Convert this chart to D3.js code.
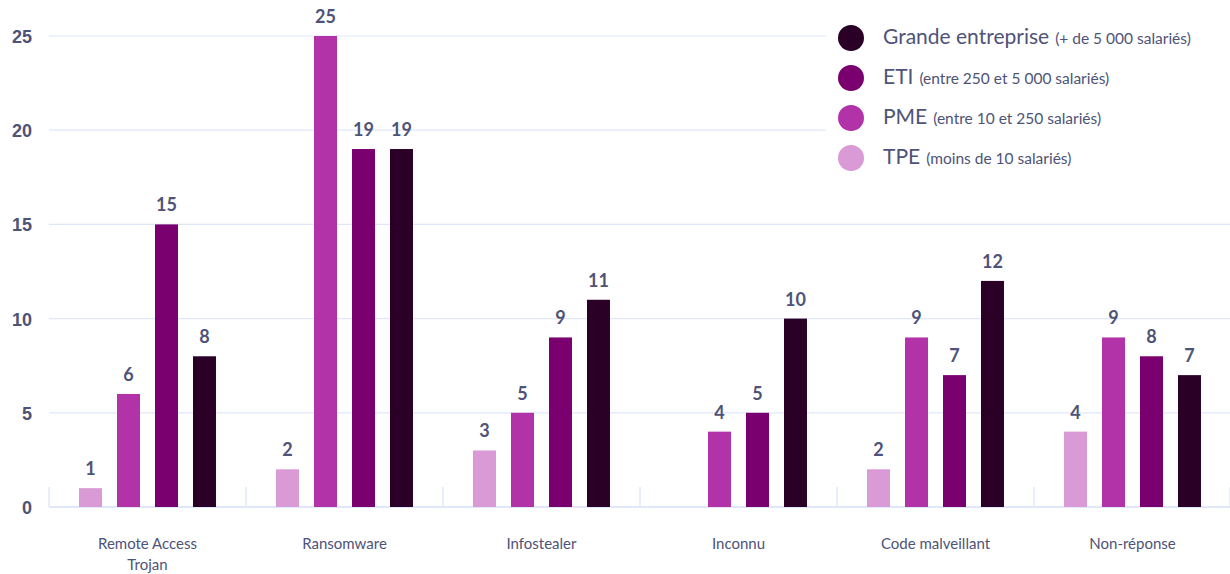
<!DOCTYPE html>
<html lang="fr">
<head>
<meta charset="utf-8">
<script src="https://cdn.jsdelivr.net/npm/d3@7"></script>
<style>
  html, body { margin: 0; padding: 0; background: #fff; }
  svg { display: block; font-family: Lato, "Open Sans", sans-serif; }
</style>
</head>
<body>
<svg id="chart" width="1230" height="574"></svg>
<script>
// Catégories de menaces
const categories = ["Remote Access Trojan", "Ransomware", "Infostealer", "Inconnu", "Code malveillant", "Non-réponse"];
// Tailles d'entreprise, dans l'ordre d'affichage des barres
const seriesKeys = ["TPE", "PME", "ETI", "GE"];
const tpe = [1, 2, 3, 0, 2, 4];
const pme = [6, 25, 5, 4, 9, 9];
const eti = [15, 19, 9, 5, 7, 8];
const ge  = [8, 19, 11, 10, 12, 7];
const yTicks = [0, 5, 10, 15, 20, 25];

const legendMain = ["Grande entreprise", "ETI", "PME", "TPE"];
const legendSub  = ["(+ de 5 000 salariés)", "(entre 250 et 5 000 salariés)", "(entre 10 et 250 salariés)", "(moins de 10 salariés)"];
const legendKeys = ["GE", "ETI", "PME", "TPE"];

const colors = { TPE: "#d99ad5", PME: "#b233a8", ETI: "#7b006f", GE: "#2b0026" };
const textColor = "#4e5377";
const gridColor = "#dfe7f8";

const seriesValues = { TPE: tpe, PME: pme, ETI: eti, GE: ge };
const rows = categories.map((c, i) => ({ cat: c, values: seriesKeys.map(k => ({ key: k, value: seriesValues[k][i] })) }));

const svg = d3.select("#chart");
const x0 = 49, x1 = 1231, yBase = 507, yTop = 36;

const x = d3.scaleBand().domain(categories).range([x0, x1]).padding(0);
const xi = d3.scaleBand().domain(seriesKeys).range([0, x.bandwidth()]).paddingInner(0.395).paddingOuter(0.79);
const y = d3.scaleLinear().domain([0, 25]).range([yBase, yTop]);

// Grille horizontale
svg.append("g").selectAll("line").data(yTicks.filter(t => t > 0)).join("line")
  .attr("x1", x0).attr("x2", x1)
  .attr("y1", d => y(d)).attr("y2", d => y(d))
  .attr("stroke", gridColor).attr("stroke-width", 1.2);

// Axe vertical (libellés seuls)
const yAxis = svg.append("g").attr("transform", "translate(32,0)")
  .call(d3.axisLeft(y).tickValues(yTicks).tickSize(0).tickPadding(0));
yAxis.select(".domain").remove();
yAxis.selectAll("text")
  .attr("fill", textColor).attr("font-size", 18).attr("font-weight", 700)
  .attr("dy", "0.36em");

// Ligne de base et séparateurs de catégories
svg.append("line").attr("x1", x0).attr("x2", x1).attr("y1", yBase).attr("y2", yBase)
  .attr("stroke", gridColor).attr("stroke-width", 2);
const seps = categories.map(c => x(c)).concat([x1 - 1]);
svg.append("g").selectAll("line").data(seps).join("line")
  .attr("x1", d => d).attr("x2", d => d)
  .attr("y1", yBase - 20).attr("y2", yBase)
  .attr("stroke", gridColor).attr("stroke-width", 1.5);

// Barres
const groups = svg.append("g").selectAll("g").data(rows).join("g")
  .attr("transform", d => `translate(${x(d.cat)},0)`);

groups.selectAll("rect").data(d => d.values).join("rect")
  .attr("x", d => xi(d.key))
  .attr("width", xi.bandwidth())
  .attr("y", d => y(d.value))
  .attr("height", d => yBase - y(d.value))
  .attr("fill", d => colors[d.key]);

// Valeurs au-dessus des barres
groups.selectAll("text").data(d => d.values.filter(v => v.value > 0)).join("text")
  .attr("x", d => xi(d.key) + xi.bandwidth() / 2)
  .attr("y", d => y(d.value) - 13)
  .attr("text-anchor", "middle")
  .attr("fill", textColor).attr("font-size", 18).attr("font-weight", 700)
  .text(d => d.value);

// Libellés des catégories (retour à la ligne pour les longs libellés)
const catLabels = svg.append("g").selectAll("text").data(categories).join("text")
  .attr("x", d => x(d) + x.bandwidth() / 2)
  .attr("y", 549)
  .attr("text-anchor", "middle")
  .attr("fill", textColor).attr("font-size", 15);
catLabels.each(function(d) {
  const lines = d === "Remote Access Trojan" ? ["Remote Access", "Trojan"] : [d];
  d3.select(this).selectAll("tspan").data(lines).join("tspan")
    .attr("x", x(d) + x.bandwidth() / 2)
    .attr("dy", (l, i) => i === 0 ? 0 : 21)
    .text(l => l);
});

// Légende
const legend = svg.append("g");
legend.append("rect").attr("x", 826).attr("y", 14).attr("width", 404).attr("height", 165).attr("fill", "#fff");
const items = legend.selectAll("g").data(legendKeys).join("g")
  .attr("transform", (d, i) => `translate(851,${38 + i * 40})`);
items.append("circle").attr("r", 13).attr("fill", d => colors[d]);
const lt = items.append("text").attr("x", 32).attr("dy", "0.35em").attr("fill", textColor);
lt.append("tspan").attr("font-size", 21).text((d, i) => legendMain[i]);
lt.append("tspan").attr("font-size", 15.5).attr("dx", 6).text((d, i) => legendSub[i]);
</script>
</body>
</html>
